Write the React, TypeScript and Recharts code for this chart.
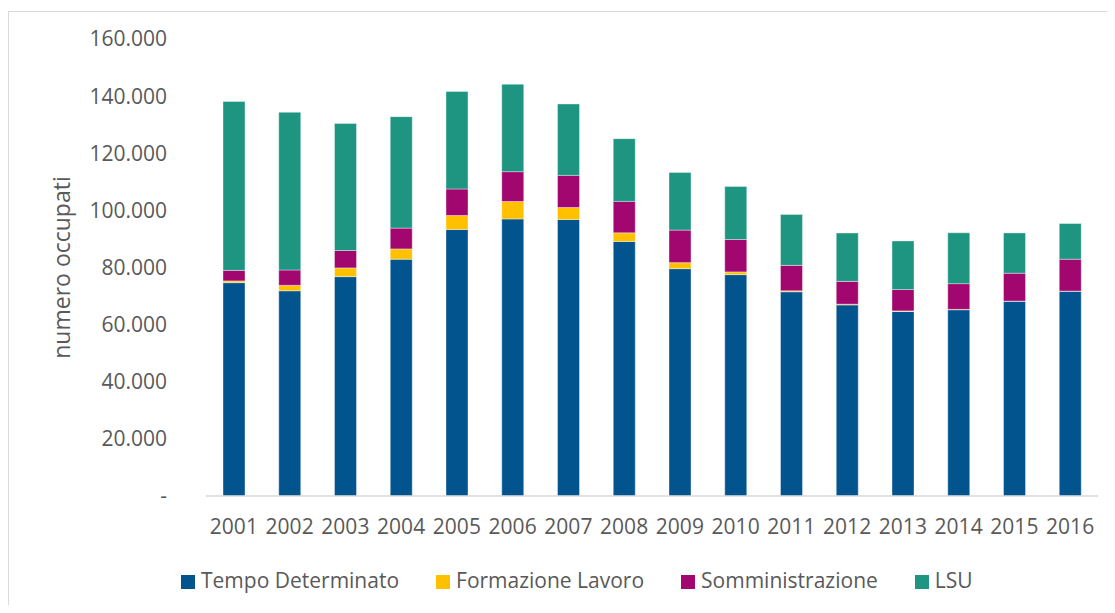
import React from 'react';
import { BarChart, Bar, XAxis, YAxis, Legend } from 'recharts';

const years = ['2001','2002','2003','2004','2005','2006','2007','2008','2009','2010','2011','2012','2013','2014','2015','2016'];
const tempoDeterminato = [74700, 71850, 76800, 82900, 93300, 97000, 96800, 89100, 79600, 77500, 71500, 66900, 64600, 65200, 68200, 71700];
const formazioneLavoro = [600, 1900, 3050, 3600, 4900, 6100, 4200, 3050, 2100, 950, 350, 250, 200, 150, 50, 50];
const somministrazione = [3700, 5380, 6100, 7300, 9300, 10450, 11250, 11000, 11400, 11350, 8900, 8000, 7500, 9000, 9750, 11150];
const lsu = [59100, 55200, 44450, 39000, 34100, 30600, 25000, 21950, 20150, 18550, 17800, 16900, 17000, 17800, 14100, 12500];
const yTicks = [0, 20000, 40000, 60000, 80000, 100000, 120000, 140000, 160000];

const seriesNames = ['Tempo Determinato', 'Formazione Lavoro', 'Somministrazione', 'LSU'];
const seriesKeys = ['td', 'fl', 'som', 'lsu'];
const seriesColors = ['#02548F', '#FFC000', '#A2076F', '#1D9580'];

const data = years.map((y, i) => ({
  year: y,
  td: tempoDeterminato[i],
  fl: formazioneLavoro[i],
  som: somministrazione[i],
  lsu: lsu[i],
}));

const FONT = '"Open Sans", sans-serif';
const TEXT = '#595959';

const fmt = (v: number) => {
  if (v === 0) return '-';
  const s = String(Math.round(v));
  return s.replace(/\B(?=(\d{3})+(?!\d))/g, '.');
};

const LegendContent = () => (
  <div style={{ display: 'flex', alignItems: 'center', fontFamily: FONT, fontSize: 21, color: TEXT, lineHeight: '28px', whiteSpace: 'nowrap' }}>
    {seriesNames.map((n, i) => (
      <div key={n} style={{ display: 'flex', alignItems: 'center', marginRight: i < seriesNames.length - 1 ? 37 : 0 }}>
        <div style={{ width: 14, height: 14, background: seriesColors[i], marginRight: 6, marginTop: 3 }} />
        <span>{n}</span>
      </div>
    ))}
  </div>
);

const YLabel = (props: any) => {
  const vb = props.viewBox || {};
  const cy = (vb.y || 0) + (vb.height || 0) / 2;
  return (
    <text x={52} y={cy} transform={`rotate(-90, 52, ${cy})`} textAnchor="middle" dominantBaseline="central" fill={TEXT} fontFamily={FONT} fontSize={23}>
      numero occupati
    </text>
  );
};

export default function App() {
  return (
    <div style={{ paddingTop: 3 }}>
      <div style={{ width: 1107, height: 594, boxSizing: 'border-box', borderTop: '1px solid #d9d9d9', borderLeft: '1px solid #d9d9d9', position: 'relative', background: '#fff' }}>
        <BarChart width={1106} height={593} data={data} margin={{ top: 27, right: 17, left: 77, bottom: 69 }} barSize={22}>
          <XAxis
            dataKey="year"
            height={40}
            tickLine={false}
            axisLine={{ stroke: '#d9d9d9', strokeWidth: 1.5 }}
            tick={{ fill: TEXT, fontFamily: FONT, fontSize: 21 }}
            tickMargin={17}
            interval={0}
          />
          <YAxis
            width={120}
            domain={[0, 160000]}
            ticks={yTicks}
            tickFormatter={fmt}
            tickLine={false}
            axisLine={false}
            tickMargin={33}
            tick={{ fill: TEXT, fontFamily: FONT, fontSize: 21 }}
            label={<YLabel />}
          />
          <Legend
            layout="horizontal"
            verticalAlign="middle"
            align="center"
            content={<LegendContent />}
            wrapperStyle={{ left: 172, top: 554, width: 'auto', height: 28 }}
          />
          {seriesKeys.map((k, i) => (
            <Bar key={k} dataKey={k} name={seriesNames[i]} stackId="a" fill={seriesColors[i]} stroke="#ffffff" strokeOpacity={0.5} strokeWidth={0.75} isAnimationActive={false} />
          ))}
        </BarChart>
      </div>
    </div>
  );
}
